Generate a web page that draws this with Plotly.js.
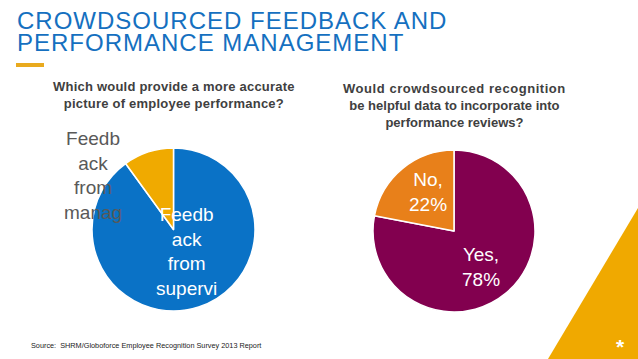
<!DOCTYPE html>
<html>
<head>
<meta charset="utf-8">
<script src="https://cdn.plot.ly/plotly-3.0.1.min.js"></script>
<style>html,body{margin:0;padding:0;background:#fff;}#chart{width:638px;height:359px;}</style>
</head>
<body>
<div id="chart"></div>
<script>
// Left pie: "Which would provide a more accurate picture of employee performance?"
const leftLabels = ["Feedback from supervisor", "Feedback from manager"];
const leftValues = [90, 10];
const leftDisplay = ["Feedb<br>ack<br>from<br>supervi", "Feedb<br>ack<br>from<br>manag"];
const leftColors = ["#0A72C6", "#F0AA00"];

// Right pie: "Would crowdsourced recognition be helpful data to incorporate into performance reviews?"
const rightLabels = ["Yes", "No"];
const rightValues = [78, 22];
const rightDisplay = ["Yes,<br>78%", "No,<br>22%"];
const rightColors = ["#82004F", "#E8801A"];

const titleLines = ["CROWDSOURCED FEEDBACK AND", "PERFORMANCE MANAGEMENT"];

const W = 638, H = 359;
const px = x => x / W;
const py = y => 1 - y / H;

const traces = [
  {
    type: "pie", labels: leftLabels, values: leftValues, sort: false,
    direction: "clockwise", rotation: 0, textinfo: "none", hoverinfo: "none",
    marker: {colors: leftColors, line: {color: "#ffffff", width: 1.5}},
    domain: {x: [px(92), px(255)], y: [1 - 311 / H, 1 - 148 / H]}
  },
  {
    type: "pie", labels: rightLabels, values: rightValues, sort: false,
    direction: "clockwise", rotation: 0, textinfo: "none", hoverinfo: "none",
    marker: {colors: rightColors, line: {color: "#ffffff", width: 1.5}},
    domain: {x: [px(373), px(535)], y: [1 - 312 / H, 1 - 150 / H]}
  }
];

const font = "Arial, 'Liberation Sans', sans-serif";
const sp = (t, s) => `<span style="letter-spacing:${s}px">${t}</span>`;
const annotations = [
  {text: sp(titleLines[0], 1), x: px(15), y: py(5), xanchor: "left", yanchor: "top", align: "left",
   font: {family: font, size: 24, color: "#1570C0"}},
  {text: sp(titleLines[1], 1), x: px(15), y: py(27.5), xanchor: "left", yanchor: "top", align: "left",
   font: {family: font, size: 24, color: "#1570C0"}},
  {text: "<b>" + sp("Which would provide a more accurate", 0.22) + "<br>" + sp("picture of employee performance?", 0.22) + "</b>", x: px(174), y: py(95), xanchor: "center", yanchor: "middle", align: "center",
   font: {family: font, size: 13, color: "#404040"}},
  {text: "<b>" + sp("Would crowdsourced recognition", 0.55) + "<br>be helpful data to incorporate into<br>performance reviews?</b>", x: px(454), y: py(105), xanchor: "center", yanchor: "middle", align: "center",
   font: {family: font, size: 13, color: "#404040"}},
  {text: leftDisplay[1], x: px(93), y: py(176), xanchor: "center", yanchor: "middle", align: "center",
   font: {family: font, size: 19, color: "#595959"}},
  {text: leftDisplay[0], x: px(186.5), y: py(251), xanchor: "center", yanchor: "middle", align: "center",
   font: {family: font, size: 19, color: "#ffffff"}},
  {text: rightDisplay[1], x: px(428), y: py(191.5), xanchor: "center", yanchor: "middle", align: "center",
   font: {family: font, size: 19, color: "#ffffff"}},
  {text: rightDisplay[0], x: px(481), y: py(266.5), xanchor: "center", yanchor: "middle", align: "center",
   font: {family: font, size: 19, color: "#ffffff"}},
  {text: "Source:  SHRM/Globoforce Employee Recognition Survey 2013 Report", x: px(29), y: py(345), xanchor: "left", yanchor: "middle", align: "left",
   font: {family: font, size: 7.3, color: "#222222"}},
  {text: "<b>*</b>", x: px(620), y: py(346), xanchor: "center", yanchor: "middle",
   font: {family: font, size: 21, color: "#ffffff"}}
];
annotations.forEach(a => { a.xref = "paper"; a.yref = "paper"; a.showarrow = false; });

const shapes = [
  {type: "rect", xref: "paper", yref: "paper", x0: px(16), x1: px(44), y0: py(67), y1: py(63),
   fillcolor: "#E9AA1E", line: {width: 0}, layer: "below"},
  {type: "path", xref: "paper", yref: "paper",
   path: `M ${px(638)} ${py(208)} L ${px(638)} ${py(359)} L ${px(548)} ${py(359)} Z`,
   fillcolor: "#F0A900", line: {width: 0}, layer: "below"}
];

const layout = {
  width: W, height: H, margin: {l: 0, r: 0, t: 0, b: 0},
  paper_bgcolor: "#ffffff", plot_bgcolor: "#ffffff",
  showlegend: false, annotations: annotations, shapes: shapes,
  font: {family: font}
};

Plotly.newPlot("chart", traces, layout, {displayModeBar: false, staticPlot: true});
</script>
</body>
</html>
